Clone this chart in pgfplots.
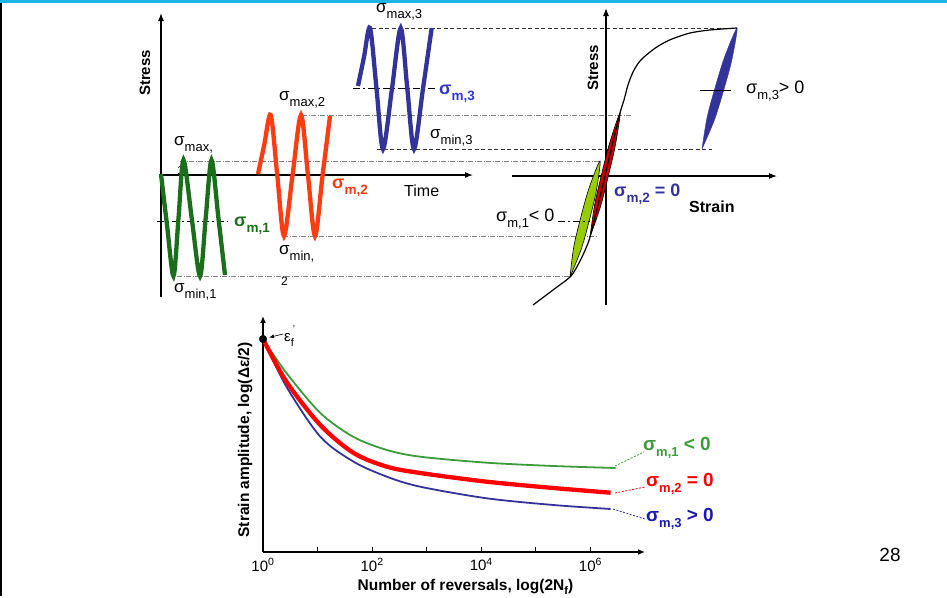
\documentclass[border=0pt]{standalone}
\usepackage{pgfplots}
\pgfplotsset{compat=1.18}
\usepackage{fontspec}
\setmainfont{Liberation Sans}
\usetikzlibrary{arrows.meta}

\definecolor{wgreen}{HTML}{1B6E1B}
\definecolor{wred}{HTML}{FF3B10}
\definecolor{wblue}{HTML}{333399}
\definecolor{lblue}{HTML}{3535D0}
\definecolor{cgreen}{HTML}{3C9C3C}
\definecolor{cred}{HTML}{FF0000}
\definecolor{cblue}{HTML}{1A1AB0}
\definecolor{loopgreen}{HTML}{99CC00}
\definecolor{loopred}{HTML}{CC0000}
\definecolor{topcyan}{HTML}{1DB3E8}

\newcommand\fsz[1]{\fontsize{#1}{#1}\selectfont}
\newcommand\sg[3]{\fsz{#1}σ\raisebox{-0.6ex}{\fsz{#2}#3}}

\tikzset{
 lvdd/.style={black!50, line width=0.6pt, dash pattern=on 5pt off 1.5pt on 1pt off 1.5pt},
 lvds/.style={black!80, line width=0.8pt, dash pattern=on 4pt off 2.5pt},
 meanl/.style={black, line width=1pt, dash pattern=on 7pt off 3pt on 2pt off 3pt},
 ax/.style={black, line width=1.1pt, -{Latex[length=8pt,width=6pt]}},
}

\begin{document}
\begin{tikzpicture}
\begin{axis}[at={(0,0)},anchor=south west,scale only axis,width=947pt,height=596pt,
  xmin=0,xmax=947,ymin=0,ymax=596,y dir=reverse,axis lines=none,clip=false]
\path (axis cs:0,0) rectangle (axis cs:947,596);
\fill[topcyan] (axis cs:0,0) rectangle (axis cs:947,2.5);
\fill[black] (axis cs:0,2.5) rectangle (axis cs:2,596);

% ---- level lines ----
\draw[lvds] (axis cs:372,28) -- (axis cs:737,28);
\draw[lvdd] (axis cs:302,115) -- (axis cs:632,115);
\draw[lvds] (axis cs:377,149) -- (axis cs:712,149);
\draw[lvdd] (axis cs:180,161) -- (axis cs:600,161);
\draw[lvdd] (axis cs:283,236) -- (axis cs:598,236);
\draw[lvdd] (axis cs:177,276) -- (axis cs:570,276);
\draw[meanl] (axis cs:353,88) -- (axis cs:437,88);
\draw[meanl] (axis cs:157,221) -- (axis cs:228,221);

% ---- axes of the top diagrams ----
\draw[ax] (axis cs:161,297) -- (axis cs:161,13);
\draw[ax] (axis cs:161,175) -- (axis cs:473,175);
\draw[ax] (axis cs:606,305) -- (axis cs:606,8);
\draw[ax] (axis cs:512,176) -- (axis cs:777,176);

% labels partly hidden by wave
\node[anchor=west,inner sep=0] at (axis cs:177,170) {\fsz{12}1};

% ---- waves ----
\addplot[wgreen, line width=4.3pt, smooth] coordinates {(161,174) (167,225) (173.5,276) (178.5,218) (183.5,160) (191.7,218) (200,276) (205.7,218) (211.5,160) (218.3,217) (225,275)};
\addplot[wred, line width=4.3pt, smooth] coordinates {(258,174) (264.3,144.5) (270.7,115) (277.3,175.5) (284,236) (292.5,175.5) (301,115) (308,175.5) (315,236) (322.5,176) (330,116)};
\addplot[wblue, line width=4.3pt, smooth] coordinates {(358,86) (364,57) (370,28) (376.5,88.5) (383,149) (392,88.5) (400.7,28) (407.3,88.5) (414,149) (423,88.5) (431.7,28)};

% ---- hysteresis loops ----
\addplot[fill=loopgreen, draw=black, line width=0.6pt, smooth] coordinates {(570,277) (581.28,248.98) (589.36,220.13) (596.28,190.98) (600,161) (588.72,189.02) (580.64,217.87) (573.72,247.02) (570,277)};
\addplot[fill=loopred, draw=black, line width=0.6pt, smooth] coordinates {(590,237) (600.45,206.71) (608.4,175.82) (615.45,144.71) (620,113) (609.55,143.29) (601.6,174.18) (594.55,205.29) (590,237)};
\addplot[fill=wblue, draw=wblue, line width=0.4pt, smooth] coordinates {(702,149) (714.49,119.83) (723.82,89.75) (731.99,59.33) (737,28) (724.51,57.17) (715.18,87.25) (707.01,117.67) (702,149)};
% stress-strain curve
\addplot[black, line width=1.2pt, smooth] coordinates {(533,305) (545,296) (557,287) (571,276) (580,261) (586,248) (590,237) (598,205) (605,176) (612,146) (620,113) (624,100) (628,85) (633,72) (640,61) (650,52) (660,45) (672,39) (690,33) (710,30) (737,28)};
\draw[black, line width=0.9pt] (axis cs:700,90) -- (axis cs:731,90);
\draw[meanl, line width=0.8pt] (axis cs:558,221) -- (axis cs:590,221);

% ---- text of top diagrams ----
\node[rotate=90,inner sep=0] at (axis cs:145,73) {\bfseries\fsz{15}Stress};
\node[rotate=90,inner sep=0] at (axis cs:593,68) {\bfseries\fsz{15}Stress};
\node[anchor=west,inner sep=0] at (axis cs:376,12) {\sg{17}{13}{max,3}};
\node[anchor=west,inner sep=0,lblue] at (axis cs:439,94) {\bfseries\sg{18}{13.5}{m,3}};
\node[anchor=west,inner sep=0] at (axis cs:430,138) {\sg{17}{13}{min,3}};
\node[anchor=west,inner sep=0] at (axis cs:279,100) {\sg{17}{13}{max,2}};
\node[anchor=west,inner sep=0,wred] at (axis cs:332,188) {\bfseries\sg{18}{13.5}{m,2}};
\node[anchor=west,inner sep=0] at (axis cs:404,191) {\fsz{16}Time};
\node[anchor=west,inner sep=0] at (axis cs:174,145) {\sg{17}{13}{max,}};
\node[anchor=west,inner sep=0,wgreen] at (axis cs:234,226) {\bfseries\sg{18}{13.5}{m,1}};
\node[anchor=west,inner sep=0] at (axis cs:279,254) {\sg{17}{13}{min,}};
\node[anchor=west,inner sep=0] at (axis cs:281,281) {\fsz{12}2};
\node[anchor=west,inner sep=0] at (axis cs:174,292) {\sg{17}{13}{min,1}};
\node[anchor=west,inner sep=0] at (axis cs:689,207) {\bfseries\fsz{16}Strain};
\node[anchor=west,inner sep=0,wblue] at (axis cs:614,194) {\bfseries\sg{18}{13.5}{m,2}\fsz{18} = 0};
\node[anchor=west,inner sep=0] at (axis cs:496,219) {\sg{18}{13}{m,1}\fsz{18}< 0};
\node[anchor=west,inner sep=0] at (axis cs:746,91) {\sg{18}{13}{m,3}\fsz{18}> 0};

% ---- annotations of the bottom chart ----
\draw[-{Latex[length=5pt,width=4pt]}, line width=0.7pt] (axis cs:283,334) -- (axis cs:269,337.5);
\node[anchor=west,inner sep=0] at (axis cs:284,336) {\fsz{15}ε\raisebox{-0.6ex}{\fsz{11}f}\hspace{-1pt}\raisebox{1.1ex}{\fsz{10}'}};
\draw[cgreen, line width=0.8pt, dash pattern=on 2pt off 1.5pt] (axis cs:615,466) -- (axis cs:644,452);
\draw[cred, line width=0.8pt, dash pattern=on 2pt off 1.5pt] (axis cs:615,493) -- (axis cs:645,487);
\draw[wblue, line width=0.8pt, dash pattern=on 2pt off 1.5pt] (axis cs:613,509) -- (axis cs:645,519);
\node[anchor=west,inner sep=0,cgreen] at (axis cs:643,448) {\bfseries\sg{19}{13}{m,1}\fsz{19} < 0};
\node[anchor=west,inner sep=0,cred] at (axis cs:646,484) {\bfseries\sg{19}{13}{m,2}\fsz{19} = 0};
\node[anchor=west,inner sep=0,cblue] at (axis cs:646,519) {\bfseries\sg{19}{13}{m,3}\fsz{19} > 0};
\node at (axis cs:890,555) {\fsz{19}28};
\end{axis}

% ---- bottom strain-life chart ----
\begin{axis}[at={(263pt,44pt)},anchor=south west,scale only axis,width=382pt,height=236pt,
  xmode=log,xmin=1,xmax=1e7,ymin=0,ymax=236,clip=false,
  axis lines=left,
  axis line style={line width=1.8pt},
  x axis line style={-{Latex[length=7pt,width=6pt]}},
  y axis line style={-{Latex[length=7pt,width=6pt]}},
  xtick={1,100,10000,1000000},
  minor xtick={10,1000,100000},
  xticklabels={10\textsuperscript{0},10\textsuperscript{2},10\textsuperscript{4},10\textsuperscript{6}},
  ytick=\empty,
  tick align=inside, major tick length=5pt, minor tick length=5pt,
  tick style={black,line width=0.8pt},
  xticklabel style={font=\fsz{15},yshift=-3pt},
  xlabel={Number of reversals, log(2N\raisebox{-0.5ex}{\fsz{11}f})},
  ylabel={Strain amplitude, log(Δε/2)},
  xlabel style={font=\bfseries\fsz{15.5},at={(axis description cs:0.53,-0.148)},anchor=center},
  ylabel style={font=\bfseries\fsz{15.5},at={(axis description cs:-0.047,0.475)},anchor=center},
]
\addplot[cgreen, line width=1.8pt, smooth] coordinates {(1,213) (2.69,179) (11.22,139) (45.7,115) (186.2,102) (758.6,95.3) (12589,89.3) (208930,86) (2884032,84)};
\addplot[wblue, line width=1.8pt, smooth] coordinates {(1,213) (2.69,165.3) (11.22,115.3) (45.7,90.3) (186.2,75.3) (758.6,65.3) (12589,53.7) (208930,47) (2344229,43)};
\addplot[cred, line width=4.3pt, smooth] coordinates {(1,213) (2.69,170.3) (11.22,127) (45.7,99) (186.2,85.3) (758.6,79) (12589,70.3) (208930,64) (2344229,59.3)};
\addplot[only marks, mark=*, mark size=3.8pt, black] coordinates {(1,213)};
\end{axis}
\end{tikzpicture}
\end{document}
